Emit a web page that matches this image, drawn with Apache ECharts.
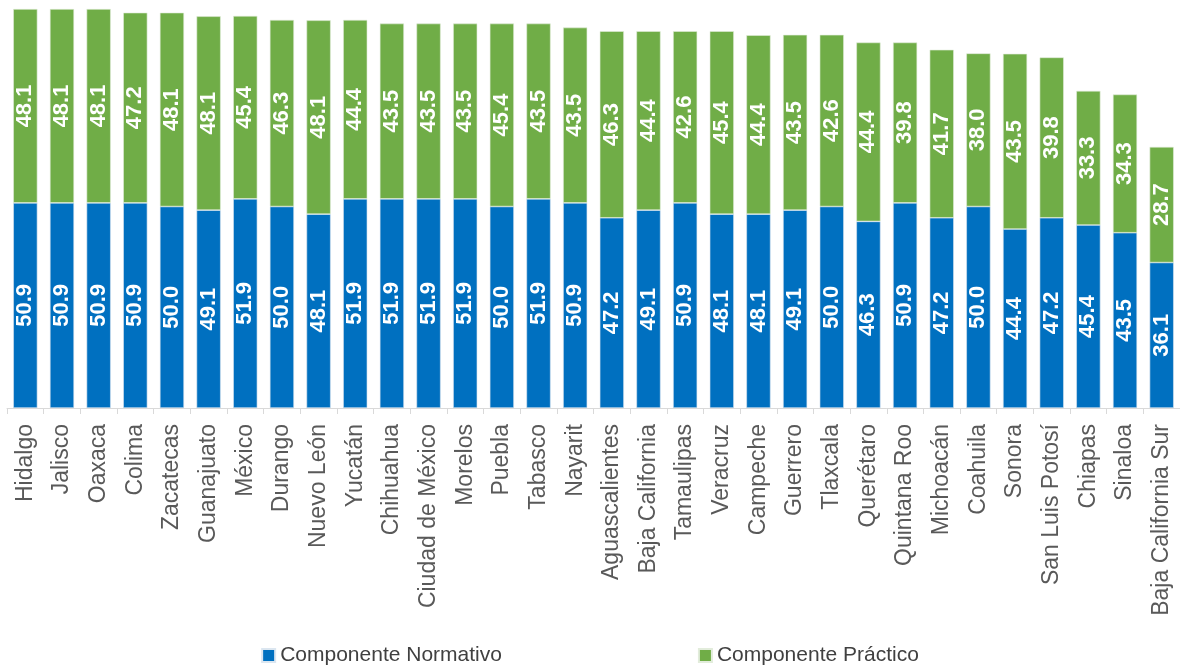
<!DOCTYPE html>
<html>
<head>
<meta charset="utf-8">
<script src="https://cdn.jsdelivr.net/npm/echarts@6/dist/echarts.min.js"></script>
<style>
  html, body { margin: 0; padding: 0; background: #fff; }
  #main { width: 1180px; height: 666px; }
</style>
</head>
<body>
<div id="main"></div>
<script>
// estados, ordenados por total
const estados = ['Hidalgo', 'Jalisco', 'Oaxaca', 'Colima', 'Zacatecas', 'Guanajuato', 'México', 'Durango',
  'Nuevo León', 'Yucatán', 'Chihuahua', 'Ciudad de México', 'Morelos', 'Puebla', 'Tabasco', 'Nayarit',
  'Aguascalientes', 'Baja California', 'Tamaulipas', 'Veracruz', 'Campeche', 'Guerrero', 'Tlaxcala', 'Querétaro',
  'Quintana Roo', 'Michoacán', 'Coahuila', 'Sonora', 'San Luis Potosí', 'Chiapas', 'Sinaloa', 'Baja California Sur']
const normativo = [50.9, 50.9, 50.9, 50.9, 50.0, 49.1, 51.9, 50.0, 48.1, 51.9, 51.9, 51.9, 51.9, 50.0, 51.9, 50.9,
  47.2, 49.1, 50.9, 48.1, 48.1, 49.1, 50.0, 46.3, 50.9, 47.2, 50.0, 44.4, 47.2, 45.4, 43.5, 36.1]
const practico = [48.1, 48.1, 48.1, 47.2, 48.1, 48.1, 45.4, 46.3, 48.1, 44.4, 43.5, 43.5, 43.5, 45.4, 43.5, 43.5,
  46.3, 44.4, 42.6, 45.4, 44.4, 43.5, 42.6, 44.4, 39.8, 41.7, 38.0, 43.5, 39.8, 33.3, 34.3, 28.7]

const myChart = echarts.init(document.getElementById('main'))

const valueLabel = {
  show: true,
  position: 'inside',
  rotate: 90,
  color: '#fff',
  fontFamily: 'Liberation Sans, Arial, sans-serif',
  fontWeight: 'bold',
  fontSize: 22,
  formatter: p => p.value.toFixed(1)
}

const option = {
  animation: false,
  grid: {
    left: 7,
    right: -3,
    top: 5,
    bottom: 258
  },
  legend: {
    data: ['Componente Normativo', 'Componente Práctico'],
    bottom: -5,
    left: 'center',
    icon: 'rect',
    itemWidth: 13,
    itemHeight: 13,
    itemGap: 196,
    textStyle: {
      color: '#404040',
      fontFamily: 'Liberation Sans, Arial, sans-serif',
      fontSize: 21
    }
  },
  xAxis: {
    type: 'category',
    data: estados,
    axisLine: { lineStyle: { color: '#d9d9d9' } },
    axisTick: { show: true, length: 6, lineStyle: { color: '#d9d9d9' } },
    axisLabel: {
      rotate: 90,
      interval: 0,
      margin: 16,
      color: '#595959',
      fontFamily: 'Liberation Sans, Arial, sans-serif',
      fontSize: 23
    }
  },
  yAxis: {
    type: 'value',
    min: 0,
    max: 100,
    show: false,
    splitLine: { show: false }
  },
  series: [
    {
      name: 'Componente Normativo',
      type: 'bar',
      stack: 'total',
      barCategoryGap: '34%',
      itemStyle: { color: '#0070c0', borderColor: '#dbe6f0', borderWidth: 0.6 },
      label: valueLabel,
      data: normativo
    },
    {
      name: 'Componente Práctico',
      type: 'bar',
      stack: 'total',
      barCategoryGap: '34%',
      itemStyle: { color: '#70ad47', borderColor: '#e2ecdb', borderWidth: 0.6 },
      label: valueLabel,
      data: practico
    }
  ]
}

myChart.setOption(option)
</script>
</body>
</html>
